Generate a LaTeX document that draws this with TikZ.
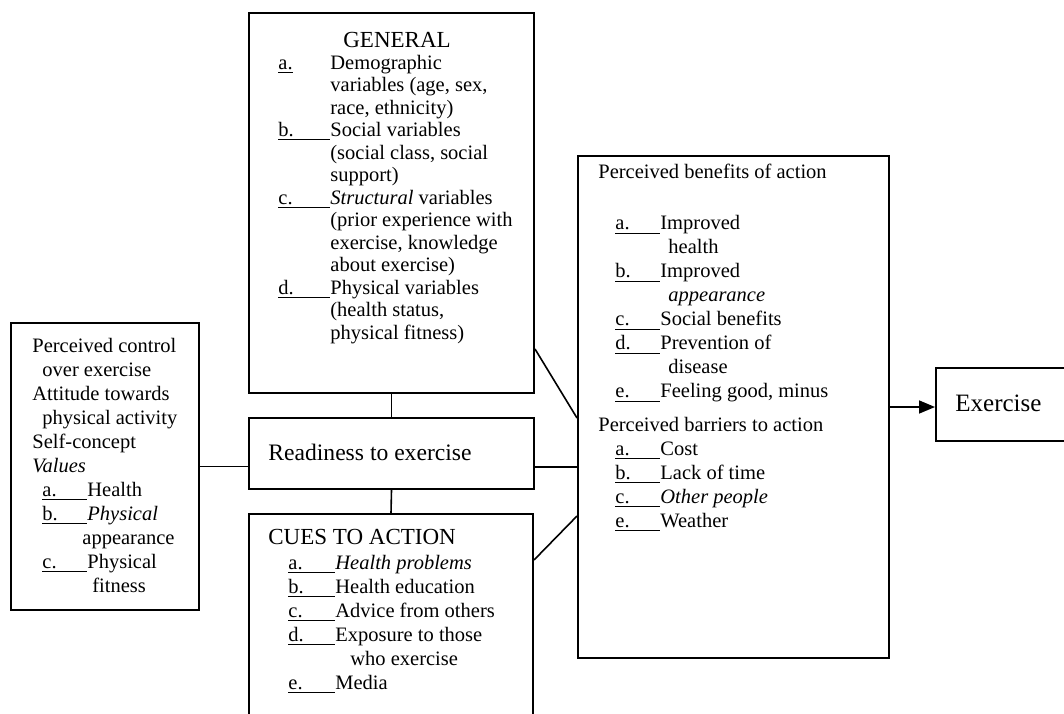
\documentclass[tikz,border=0pt]{standalone}
\usepackage{fontspec}
\setmainfont{Liberation Serif}
\usetikzlibrary{arrows.meta}

% underlined item letter with a blank after it
\newcommand{\lbl}[2][22.5pt]{\underline{\makebox[#1][l]{#2}}}

\tikzset{
  box/.style={draw, line width=1pt, inner sep=0pt, anchor=north west},
  txt/.style={anchor=north west, align=left, inner sep=0pt, font=\fontsize{10.25}{12}\selectfont},
  conn/.style={line width=0.8pt},
}

\begin{document}
\begin{tikzpicture}[x=0.5pt,y=-0.5pt]
\useasboundingbox (0,0) rectangle (1064,713);
\clip (0,0) rectangle (1064,713);

% boxes
\node[box, minimum width=94pt, minimum height=143.5pt] (values) at (10,322) {};
\node[box, minimum width=142.5pt, minimum height=190pt] (general) at (248,12) {};
\node[box, minimum width=142.5pt, minimum height=35.5pt] (ready) at (248,417) {};
\node[box, minimum width=142pt, minimum height=115pt] (cues) at (248,513) {};
\node[box, minimum width=155.5pt, minimum height=251pt] (percv) at (577,155) {};
\node[box, minimum width=75pt, minimum height=36.5pt] (exer) at (935,367) {};

% left box
\node[txt] (valtxt) at (32,338) {Perceived control\\
\hspace*{5pt}over exercise\\
Attitude towards\\
\hspace*{5pt}physical activity\\
Self-concept\\
\textit{Values}\\
\hspace*{5pt}\lbl{a.}Health\\
\hspace*{5pt}\lbl{b.}\textit{Physical}\\
\hspace*{25pt}appearance\\
\hspace*{5pt}\lbl{c.}Physical\\
\hspace*{30pt}fitness};

% general
\node[inner sep=0pt, font=\fontsize{11.5}{12}\selectfont] (gentitle) at (397,40) {GENERAL};
\node[txt, font=\fontsize{10.25}{11.25}\selectfont] (gentxt) at (278,54.5) {\makebox[26pt][l]{\underline{a.}}Demographic\\
\hspace*{26pt}variables (age, sex,\\
\hspace*{26pt}race, ethnicity)\\
\lbl[26pt]{b.}Social variables\\
\hspace*{26pt}(social class, social\\
\hspace*{26pt}support)\\
\lbl[26pt]{c.}\textit{Structural} variables\\
\hspace*{26pt}(prior experience with\\
\hspace*{26pt}exercise, knowledge\\
\hspace*{26pt}about exercise)\\
\lbl[26pt]{d.}Physical variables\\
\hspace*{26pt}(health status,\\
\hspace*{26pt}physical fitness)};

% readiness
\node[txt, font=\fontsize{11.8}{12}\selectfont] (readtxt) at (268,444) {Readiness to exercise};

% cues
\node[txt, font=\fontsize{11.5}{12}\selectfont] (cuetitle) at (268,529) {CUES TO ACTION};
\node[txt] (cuetxt) at (288,555) {\lbl[23.5pt]{a.}\textit{Health problems}\\
\lbl[23.5pt]{b.}Health education\\
\lbl[23.5pt]{c.}Advice from others\\
\lbl[23.5pt]{d.}Exposure to those\\
\hspace*{31pt}who exercise\\
\lbl[23.5pt]{e.}Media};

% benefits and barriers
\node[txt] (benetxt) at (598,164) {Perceived benefits of action\\[13.5pt]
\hspace*{8.5pt}\lbl{a.}Improved\\
\hspace*{35pt}health\\
\hspace*{8.5pt}\lbl{b.}Improved\\
\hspace*{35pt}\textit{appearance}\\
\hspace*{8.5pt}\lbl{c.}Social benefits\\
\hspace*{8.5pt}\lbl{d.}Prevention of\\
\hspace*{35pt}disease\\
\hspace*{8.5pt}\lbl{e.}Feeling good, minus};
\node[txt] (barrtxt) at (598,417) {Perceived barriers to action\\
\hspace*{8.5pt}\lbl{a.}Cost\\
\hspace*{8.5pt}\lbl{b.}Lack of time\\
\hspace*{8.5pt}\lbl{c.}\textit{Other people}\\
\hspace*{8.5pt}\lbl{e.}Weather};

% exercise
\node[txt, font=\fontsize{12.5}{12}\selectfont] (exertxt) at (955,395) {Exercise};

% connectors
\draw[conn] (values.east) -- (values.east -| ready.west);
\draw[conn] (general.south) -- (ready.north);
\draw[conn] (ready.south) -- (cues.north);
\draw[conn] ([yshift=22.5pt]general.south east) -- ([yshift=-5.5pt]percv.west);
\draw[conn] ([yshift=-6.75pt]ready.east) -- ([yshift=-6.75pt]ready.east -| percv.west);
\draw[conn] ([yshift=-23.5pt]cues.north east) -- ([yshift=-54.5pt]percv.west);
\draw[conn, -{Triangle[length=8pt,width=6.5pt]}] (percv.east) -- (percv.east -| exer.west);

\end{tikzpicture}
\end{document}
